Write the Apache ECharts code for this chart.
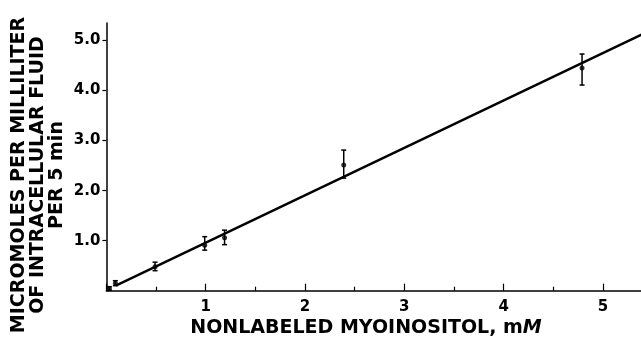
<!DOCTYPE html>
<html>
<head>
<meta charset="utf-8">
<script src="https://cdn.jsdelivr.net/npm/echarts@6/dist/echarts.min.js"></script>
<style>
html,body{margin:0;padding:0;background:#fff;}
#c{width:641px;height:338px;}
</style>
</head>
<body>
<div id="c"></div>
<script>
// Data
var concentration = [0.03, 0.09, 0.49, 0.99, 1.19, 2.39, 4.79];   // mM
var uptakeMean    = [0.04, 0.15, 0.48, 0.91, 1.06, 2.51, 4.45];   // µmol/ml per 5 min
var uptakeLow     = [0.01, 0.10, 0.40, 0.81, 0.92, 2.25, 4.11];
var uptakeHigh    = [0.08, 0.20, 0.57, 1.08, 1.21, 2.81, 4.73];
var fitX = [0.10, 5.6];
var fitY = [0.105, 5.319];
var xTickLabels = ['1', '2', '3', '4', '5'];
var yTickLabels = ['1.0', '2.0', '3.0', '4.0', '5.0'];

var pts = concentration.map(function (x, i) { return [x, uptakeMean[i]]; });
var bars = concentration.map(function (x, i) { return [x, uptakeLow[i], uptakeHigh[i]]; });
var fit = fitX.map(function (x, i) { return [x, fitY[i]]; });

var chart = echarts.init(document.getElementById('c'), null, {renderer: 'canvas'});
var FONT = 'DejaVu Sans';
chart.setOption({
  animation: false,
  backgroundColor: '#fff',
  grid: {left: 106.4, width: 595.8, top: 23, bottom: 47.3, containLabel: false, outerBoundsMode: 'none'},
  xAxis: {
    type: 'value', min: 0, max: 6, interval: 1,
    axisLine: {show: true, onZero: false, lineStyle: {color: '#000', width: 1.5}},
    axisTick: {show: true, inside: true, length: 7, lineStyle: {color: '#000', width: 1.2}},
    minorTick: {show: true, splitNumber: 2, length: 4, lineStyle: {color: '#000', width: 1.2}},
    splitLine: {show: false},
    axisLabel: {
      margin: 9, color: '#000', fontFamily: FONT, fontWeight: 'bold', fontSize: 15,
      formatter: function (v) { var s = String(v); return xTickLabels.indexOf(s) >= 0 ? s : ''; }
    }
  },
  yAxis: {
    type: 'value', min: 0, max: 5.35, interval: 1,
    axisLine: {show: true, onZero: false, lineStyle: {color: '#000', width: 1.5}},
    axisTick: {show: true, inside: false, length: 4, customValues: [1, 2, 3, 4, 5], lineStyle: {color: '#000', width: 1.2}},
    splitLine: {show: false},
    axisLabel: {
      margin: 6, color: '#000', fontFamily: FONT, fontWeight: 'bold', fontSize: 15,
      customValues: [1, 2, 3, 4, 5],
      formatter: function (v) { var s = v.toFixed(1); return yTickLabels.indexOf(s) >= 0 ? s : ''; }
    }
  },
  graphic: [
    {
      type: 'text', x: 38, y: 175, rotation: Math.PI / 2,
      style: {
        text: 'MICROMOLES PER MILLILITER\nOF INTRACELLULAR FLUID\nPER 5 min',
        font: 'bold 19px "DejaVu Sans"', fill: '#000',
        textAlign: 'center', textVerticalAlign: 'middle', lineHeight: 19
      }
    },
    {
      type: 'text', x: 366, y: 328,
      style: {
        text: 'NONLABELED MYOINOSITOL, m{i|M}',
        font: 'bold 19px "DejaVu Sans"', fill: '#000',
        textAlign: 'center', textVerticalAlign: 'middle',
        rich: {i: {fontStyle: 'italic', fontWeight: 'bold', fontSize: 19, fontFamily: FONT, fill: '#000'}}
      }
    }
  ],
  series: [
    {
      type: 'line', data: fit, symbol: 'none', silent: true,
      lineStyle: {color: '#000', width: 2.4}, z: 2
    },
    {
      type: 'custom', data: bars, z: 3,
      renderItem: function (params, api) {
        var x = api.value(0);
        var lo = api.coord([x, api.value(1)]);
        var hi = api.coord([x, api.value(2)]);
        var cap = 2.5;
        var st = {stroke: '#000', lineWidth: 1.5};
        return {
          type: 'group', children: [
            {type: 'line', shape: {x1: lo[0], y1: lo[1], x2: hi[0], y2: hi[1]}, style: st},
            {type: 'line', shape: {x1: lo[0] - cap, y1: lo[1], x2: lo[0] + cap, y2: lo[1]}, style: st},
            {type: 'line', shape: {x1: hi[0] - cap, y1: hi[1], x2: hi[0] + cap, y2: hi[1]}, style: st}
          ]
        };
      }
    },
    {
      type: 'scatter', data: pts, symbol: 'circle', symbolSize: 5,
      itemStyle: {color: '#000'}, z: 4
    }
  ]
});
</script>
</body>
</html>
